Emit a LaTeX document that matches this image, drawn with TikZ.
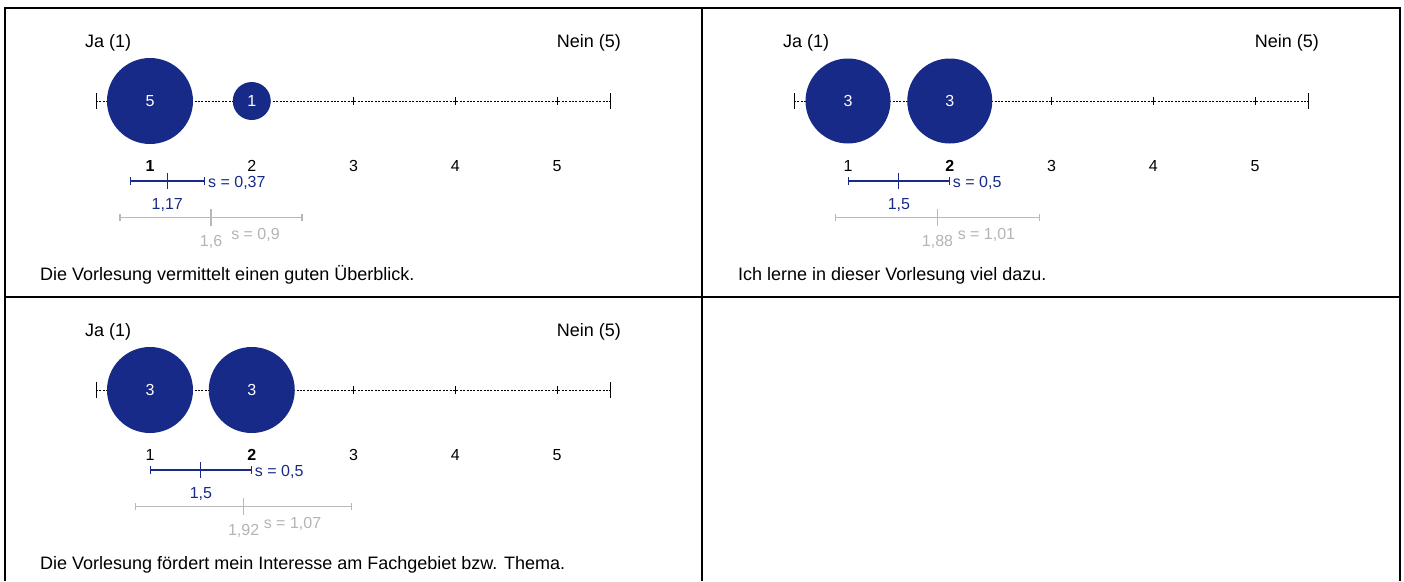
\documentclass[tikz,border=0pt]{standalone}
\usepackage{fontspec}
\setmainfont{Liberation Sans}
\usetikzlibrary{arrows.meta}

\definecolor{kreisblau}{HTML}{172A88}
\definecolor{balkengrau}{HTML}{B8B8B8}
\definecolor{textgrau}{HTML}{B4B4B4}

\tikzset{
	rahmen/.style={line width=1.6pt},
	achse/.style={line width=0.9pt, dash pattern=on 2pt off 1.4pt},
	strich/.style={line width=0.9pt},
	kreis/.style={circle, fill=kreisblau, text=white, inner sep=0pt, font=\fontsize{16}{18}\selectfont},
	gross/.style={inner sep=0pt, font=\fontsize{18}{21}\selectfont},
	klein/.style={inner sep=0pt, font=\fontsize{16}{18}\selectfont},
	eigenbalken/.style={kreisblau, line width=1.2pt},
	gesamtbalken/.style={balkengrau, line width=1.4pt}
}

% skala mit strichen, zahlen und beschriftung
\newcommand\skala[2]{%
	\draw[achse] (0.47,101) -- (5.53,101);
	\draw[strich] (0.47,93) -- (0.47,109);
	\draw[strich] (5.53,93) -- (5.53,109);
	\foreach \k in {1,...,5} {
		\draw[strich] (\k,97) -- (\k,105);
		\node[klein, anchor=base] (#1n\k) at (\k,171) {\ifnum\k=#2\relax\bfseries\fi\k};
	}
	\node[gross, anchor=base west] (#1ja) at (0.36,47) {Ja (1)};
	\node[gross, anchor=base east] (#1nein) at (5.63,47) {Nein (5)};
}

% mittelwert und streuung dieser veranstaltung
\newcommand\eigen[5]{%
	\pgfmathsetmacro\lo{#2-#3}
	\pgfmathsetmacro\hi{#2+#3}
	\draw[eigenbalken, {Bar[width=8pt]}-{Bar[width=8pt]}] (\lo,181) -- (\hi,181);
	\draw[eigenbalken] (#2,173) -- (#2,189);
	\node[klein, kreisblau, anchor=base west] (#1sd) at ([xshift=3pt]\hi,187) {s = #5};
	\node[klein, kreisblau, anchor=base] (#1mw) at (#2,209) {#4};
}

% mittelwert und streuung aller veranstaltungen
\newcommand\gesamt[5]{%
	\pgfmathsetmacro\lo{#2-#3}
	\pgfmathsetmacro\hi{#2+#3}
	\draw[gesamtbalken, {Bar[width=7pt]}-{Bar[width=7pt]}] (\lo,217.5) -- (\hi,217.5);
	\draw[gesamtbalken] (#2,209) -- (#2,226);
	\node[klein, textgrau, anchor=base] (#1mw) at (#2,246) {#4};
	\node[klein, textgrau, anchor=base west] (#1sd) at ([xshift=20pt]#2,239) {s = #5};
}

\begin{document}
\begin{tikzpicture}[x=1pt, y=-1pt]
	\useasboundingbox (0,0) rectangle (1404,581);
	
	% rahmen
	\draw[rahmen] (5,581) -- (5,8) -- (1400,8) -- (1400,581);
	\draw[rahmen] (702,8) -- (702,581);
	\draw[rahmen] (5,297) -- (1400,297);
	
	% oben links
	\begin{scope}[xshift=48.25pt, x=101.75pt]
		\skala{l}{1}
		\node[kreis, minimum size=86pt] (lk1) at (1,101) {5};
		\node[kreis, minimum size=38pt] (lk2) at (2,101) {1};
		\eigen{le}{1.17}{0.37}{1,17}{0,37}
		\gesamt{lg}{1.6}{0.9}{1,6}{0,9}
	\end{scope}
	\node[gross, anchor=base west] (lsatz) at (40,280) {Die Vorlesung vermittelt einen guten Überblick.};
	
	% oben rechts
	\begin{scope}[xshift=746.25pt, x=101.75pt]
		\skala{r}{2}
		\node[kreis, minimum size=85pt] (rk1) at (1,101) {3};
		\node[kreis, minimum size=85pt] (rk2) at (2,101) {3};
		\eigen{re}{1.5}{0.5}{1,5}{0,5}
		\gesamt{rg}{1.88}{1.01}{1,88}{1,01}
	\end{scope}
	\node[gross, anchor=base west] (rsatz) at (738,280) {Ich lerne in dieser Vorlesung viel dazu.};
	
	% unten links
	\begin{scope}[xshift=48.25pt, yshift=-289pt, x=101.75pt]
		\skala{u}{2}
		\node[kreis, minimum size=86pt] (uk1) at (1,101) {3};
		\node[kreis, minimum size=86pt] (uk2) at (2,101) {3};
		\eigen{ue}{1.5}{0.5}{1,5}{0,5}
		\gesamt{ug}{1.92}{1.07}{1,92}{1,07}
	\end{scope}
	\node[gross, anchor=base west] (usatz) at (40,569) {Die Vorlesung fördert mein Interesse am Fachgebiet bzw. Thema.};
\end{tikzpicture}
\end{document}
